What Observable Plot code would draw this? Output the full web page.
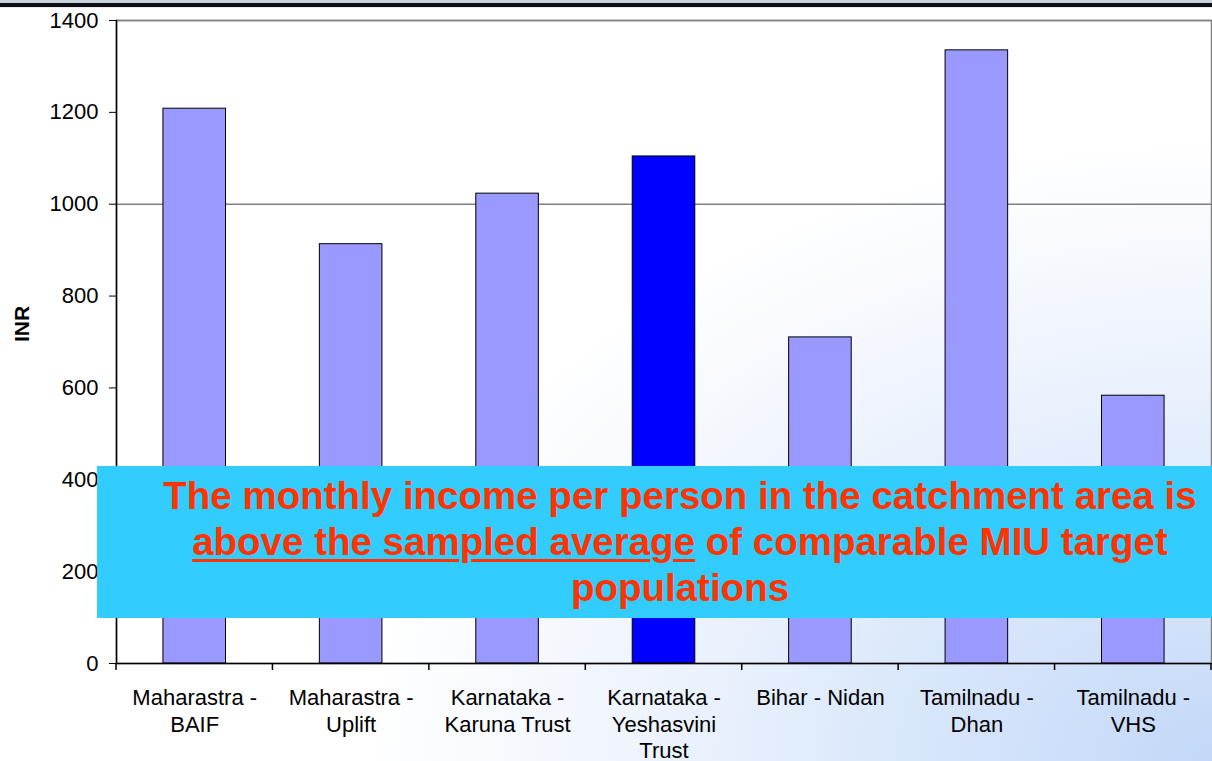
<!DOCTYPE html>
<html><head><meta charset="utf-8">
<script src="https://cdn.jsdelivr.net/npm/d3@7"></script>
<script src="https://cdn.jsdelivr.net/npm/@observablehq/plot@0.6"></script>
<style>
html,body{margin:0;padding:0;}
body{width:1212px;height:761px;overflow:hidden;position:relative;font-family:"Liberation Sans",Arial,sans-serif;
background:radial-gradient(ellipse 90% 105% at 100% 100%, #c3d8f8 0%, #d9e7fb 28%, #eef4fd 52%, #ffffff 78%);}
#topbar{position:absolute;left:0;top:0;width:1212px;height:8px;background:linear-gradient(#c9d3de 0 3px,#111 3px 7px,#e6edf6 7px 8px);}
#chart{position:absolute;left:0;top:0;}
#note{position:absolute;left:97px;top:466px;width:1166px;height:152px;box-sizing:border-box;padding-top:7px;background:#33CCFF;color:#FF3300;font-weight:bold;font-size:38.5px;line-height:46px;text-align:center;}
#note u{text-decoration-thickness:3px;text-underline-offset:4px;}
</style></head>
<body>
<div id="chart"></div>
<div id="topbar"></div>
<div id="note">The monthly income per person in the catchment area is<br><u>above the sampled average</u> of comparable MIU target<br>populations</div>
<script>
const categories = ["Maharastra - BAIF","Maharastra - Uplift","Karnataka - Karuna Trust","Karnataka - Yeshasvini Trust","Bihar - Nidan","Tamilnadu - Dhan","Tamilnadu - VHS"];
const tickLabels = ["Maharastra -\nBAIF","Maharastra -\nUplift","Karnataka -\nKaruna Trust","Karnataka -\nYeshasvini\nTrust","Bihar - Nidan","Tamilnadu -\nDhan","Tamilnadu -\nVHS"];
const values = [1208, 913, 1023, 1104, 710, 1335, 583];
const highlighted = ["Karnataka - Yeshasvini Trust"];
const yTicks = [0,200,400,600,800,1000,1200,1400];
const gridValues = [1000, 1400];
const yLabel = "INR";

const data = categories.map((c,i)=>({cat:c, value:values[i], hl:highlighted.includes(c)}));
const labelOf = new Map(categories.map((c,i)=>[c,tickLabels[i]]));

const plot = Plot.plot({
  width:1212, height:761,
  marginLeft:116, marginRight:1, marginTop:20, marginBottom:98,
  style:{background:"transparent", fontFamily:"'Liberation Sans', Arial, sans-serif", fontSize:"22px", color:"#000", overflow:"visible"},
  x:{domain:categories, paddingInner:0.6, paddingOuter:0.3, label:null, round:false},
  y:{domain:[0,1400], label:null},
  color:{type:"identity"},
  marks:[
    Plot.frame({stroke:"#808080", strokeWidth:1.5}),
    Plot.ruleY(gridValues,{stroke:"#808080", strokeWidth:1.5}),
    Plot.barY(data,{x:"cat", y:"value", fill:d=>d.hl?"#0000FF":"#9999FF", stroke:"#000", strokeWidth:1}),
    Plot.axisY({ticks:yTicks, tickSize:7, tickPadding:11, label:null, fontSize:22, stroke:"#000", tickFormat:d=>String(d)}),
    Plot.axisX({tickSize:0, tickPadding:23, label:null, fontSize:22, tickFormat:d=>labelOf.get(d), lineHeight:1.2}),
    Plot.frame({anchor:"left", stroke:"#000", strokeWidth:1.5}),
    Plot.ruleY([0],{stroke:"#000", strokeWidth:1.5}),
    Plot.text([yLabel],{frameAnchor:"left", dx:-94, rotate:-90, fontWeight:"bold", fontSize:21, fill:"#000"})
  ]
});
document.getElementById("chart").appendChild(plot);

// category boundary ticks below the x axis, from the library's band scale
const xs = plot.scale("x"), ys = plot.scale("y");
const y0 = ys.apply(0);
const bounds = d3.range(categories.length+1).map(i => xs.range[0] + i*xs.step);
d3.select(plot).append("g").selectAll("line").data(bounds).join("line")
  .attr("x1",d=>d).attr("x2",d=>d).attr("y1",y0).attr("y2",y0+7)
  .attr("stroke","#000").attr("stroke-width",1.5);
</script>
</body></html>
